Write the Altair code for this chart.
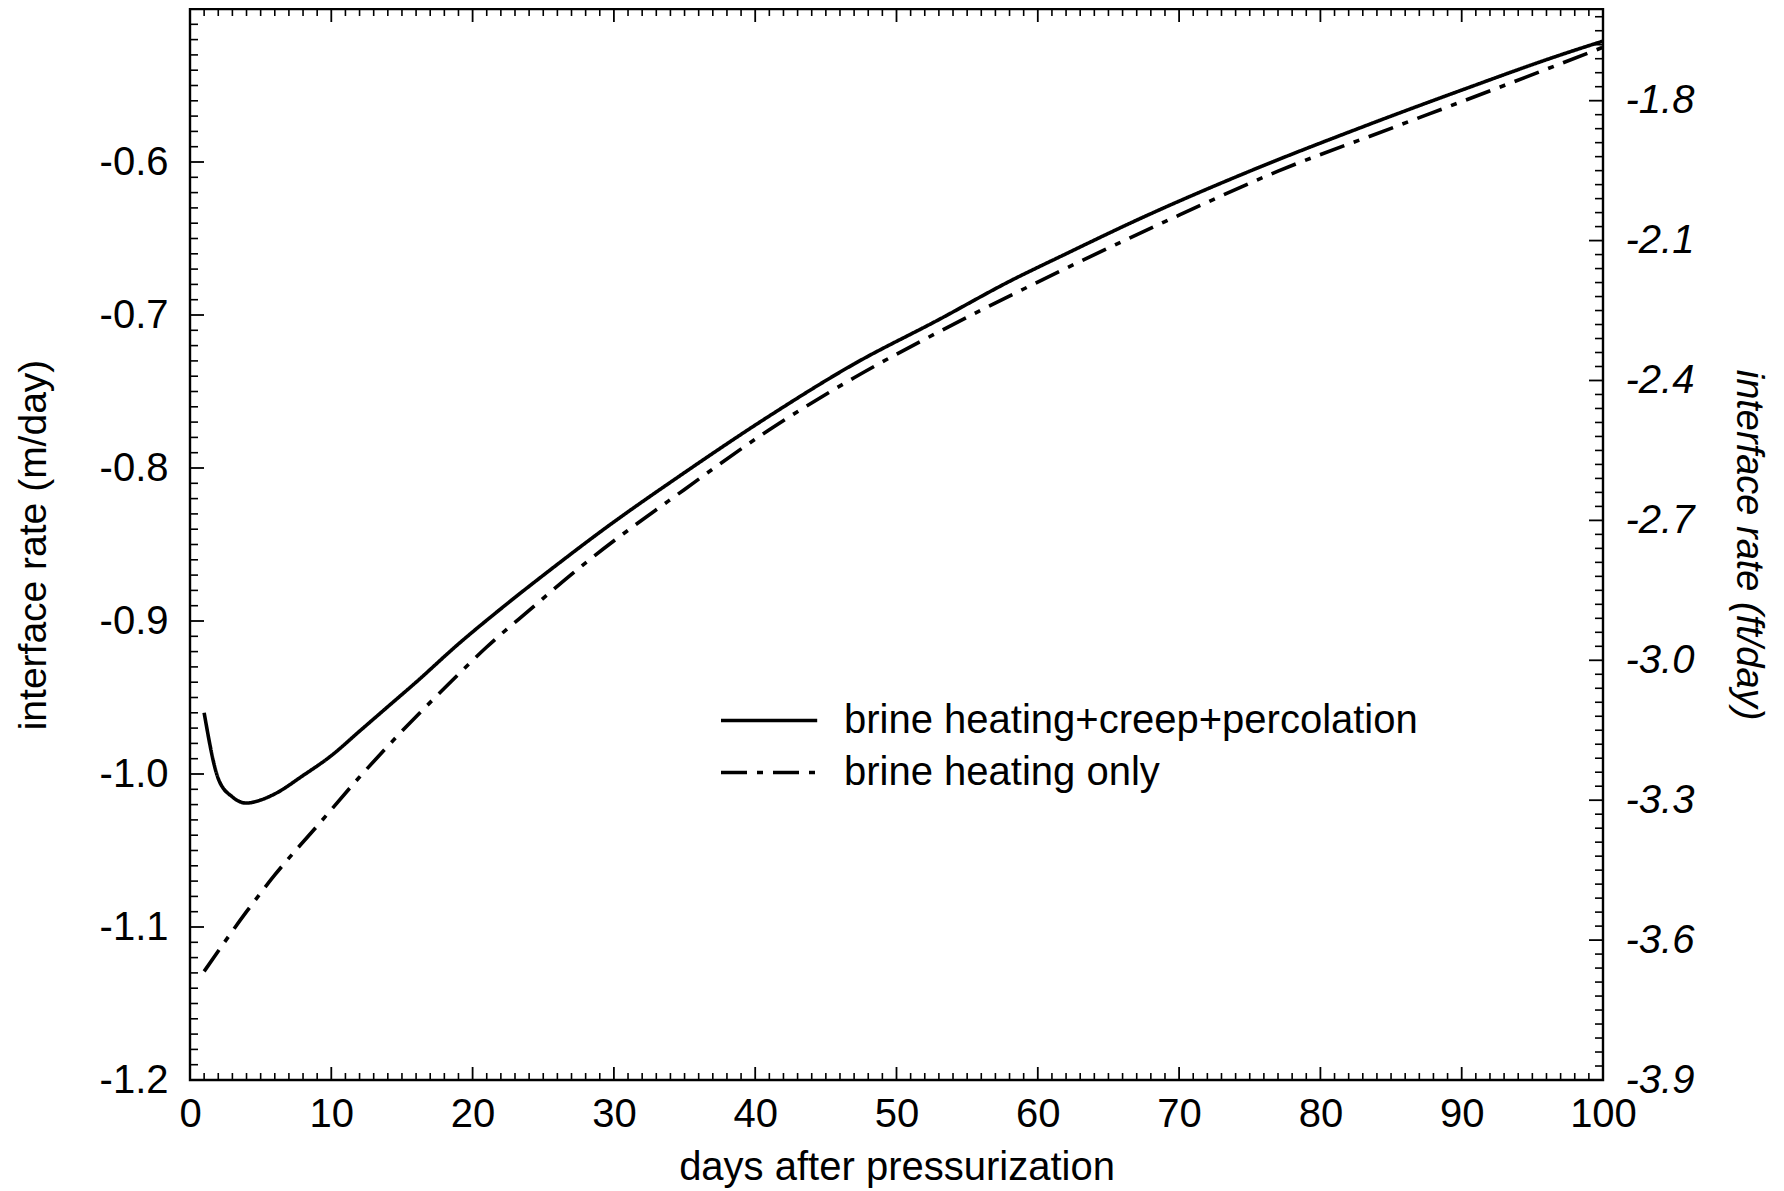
import altair as alt
import pandas as pd

# ---- data ----
solid_days = [1, 2, 3, 4, 5, 6, 8, 10, 12, 14, 16, 19, 22, 26, 29, 35, 41, 47, 53, 58, 62, 67, 75, 83, 90, 97, 100]
solid_rate = [-0.960, -1.003, -1.015, -1.019, -1.017, -1.013, -1.001, -0.988, -0.972, -0.956, -0.940,
              -0.915, -0.892, -0.863, -0.842, -0.803, -0.766, -0.732, -0.703, -0.678, -0.660, -0.638,
              -0.606, -0.577, -0.553, -0.530, -0.521]
dash_days = [1, 4, 6, 9, 12, 15, 18, 21, 24, 28, 35, 41, 47, 53, 59, 63, 69, 77, 85, 93, 100]
dash_rate = [-1.129, -1.090, -1.066, -1.034, -1.002, -0.972, -0.944, -0.917, -0.893, -0.862,
             -0.814, -0.775, -0.741, -0.711, -0.683, -0.665, -0.639, -0.606, -0.578, -0.550, -0.525]

series_names = ["brine heating+creep+percolation", "brine heating only"]

x_labels = [0, 10, 20, 30, 40, 50, 60, 70, 80, 90, 100]
y_labels = [-1.2, -1.1, -1.0, -0.9, -0.8, -0.7, -0.6]
ft_labels = [-3.9, -3.6, -3.3, -3.0, -2.7, -2.4, -2.1, -1.8]

x_domain = [0, 100]
y_domain = [-1.2, -0.5]
ft_domain = [-3.9, -3.9 + 0.7 * 3.28084]

W, H = 1413, 1071
FONT = "Liberation Sans"
MINUS_EXPR = "(datum.value < 0 ? '-' : '') + format(abs(datum.value), '.1f')"

df = pd.DataFrame(
    {"day": solid_days + dash_days,
     "rate": solid_rate + dash_rate,
     "series": [series_names[0]] * len(solid_days) + [series_names[1]] * len(dash_days)}
)

# tick tables (minor + major) for inward ticks
x_minor = pd.DataFrame({"v": [d for d in range(0, 101) if d % 10 != 0]})
x_major = pd.DataFrame({"v": x_labels})
y_minor = pd.DataFrame({"v": [round(-1.2 + i * 0.01, 3) for i in range(71) if i % 10 != 0]})
y_major = pd.DataFrame({"v": y_labels + [-0.5]})
ft_minor = pd.DataFrame({"v": [round(-3.9 + i * 0.03, 3) for i in range(77) if i % 10 != 0]})
ft_major = pd.DataFrame({"v": ft_labels})

xscale = alt.Scale(domain=x_domain, nice=False, zero=False)
yscale = alt.Scale(domain=y_domain, nice=False, zero=False)
ftscale = alt.Scale(domain=ft_domain, nice=False, zero=False)

x_axis = alt.Axis(values=x_labels, title="days after pressurization", grid=False, ticks=False,
                  tickSize=0, domain=False, labelFont=FONT, labelFontSize=40, labelPadding=14,
                  titleFont=FONT, titleFontSize=40, titleFontWeight="normal", titlePadding=13,
                  labelColor="black", titleColor="black", labelFlush=False, format="d")
y_axis = alt.Axis(values=y_labels, title="interface rate (m/day)", grid=False, ticks=False,
                  tickSize=0, domain=False, labelFont=FONT, labelFontSize=40, labelPadding=22,
                  titleFont=FONT, titleFontSize=39, titleFontWeight="normal", titlePadding=46,
                  labelColor="black", titleColor="black", labelExpr=MINUS_EXPR, labelFlush=False)
ft_axis = alt.Axis(values=ft_labels, title="interface rate (ft/day)", orient="right", grid=False,
                   ticks=False, tickSize=0, domain=False, labelFont=FONT, labelFontSize=40,
                   labelFontStyle="italic", labelPadding=22, titleFont=FONT, titleFontSize=38,
                   titleFontStyle="italic", titleFontWeight="normal", titlePadding=35,
                   labelColor="black", titleColor="black", labelExpr=MINUS_EXPR, labelFlush=False)

lines = alt.Chart(df).mark_line(color="black", strokeWidth=3.6, clip=True,
                                interpolate="monotone").encode(
    x=alt.X("day:Q", scale=xscale, axis=x_axis),
    y=alt.Y("rate:Q", scale=yscale, axis=y_axis),
    strokeDash=alt.StrokeDash(
        "series:N",
        scale=alt.Scale(domain=series_names, range=[[1, 0], [26, 10, 6, 10]]),
        legend=alt.Legend(title=None, orient="none", legendX=529, legendY=691,
                          symbolType="M-1,0H4.2", symbolSize=1369, symbolStrokeWidth=3.5,
                          symbolStrokeColor="black", symbolFillColor="transparent",
                          labelFont=FONT, labelFontSize=40,
                          labelColor="black", labelOffset=84, rowPadding=11, padding=0,
                          labelLimit=0),
    ),
    order="day:Q",
)


def rule_y(data, scale, axis, x0, x1, sw):
    return alt.Chart(data).mark_rule(color="black", strokeWidth=sw).encode(
        y=alt.Y("v:Q", scale=scale, axis=axis), x=alt.value(x0), x2=alt.value(x1))


def rule_x(data, y0, y1, sw):
    return alt.Chart(data).mark_rule(color="black", strokeWidth=sw).encode(
        x=alt.X("v:Q", scale=xscale, axis=x_axis), y=alt.value(y0), y2=alt.value(y1))


left_minor = rule_y(y_minor, yscale, y_axis, 0, 8, 1.6)
left_major = rule_y(y_major, yscale, y_axis, 0, 14, 1.8)
bot_minor = rule_x(x_minor, H, H - 7, 1.6)
bot_major = rule_x(x_major, H, H - 13, 1.8)
top_minor = rule_x(x_minor, 0, 7, 1.6)
top_major = rule_x(x_major, 0, 13, 1.8)
right_minor = rule_y(ft_minor, ftscale, ft_axis, W, W - 8, 1.6)
right_major = rule_y(ft_major, ftscale, ft_axis, W, W - 14, 1.8)

frame = alt.Chart(pd.DataFrame({"a": [0]})).mark_rect(
    fill="transparent", stroke="black", strokeWidth=2.4
).encode(x=alt.value(0), x2=alt.value(W), y=alt.value(0), y2=alt.value(H))

left_group = alt.layer(frame, lines, left_minor, left_major, bot_minor, bot_major, top_minor, top_major)
right_group = alt.layer(right_minor, right_major)

chart = alt.layer(left_group, right_group).resolve_scale(y="independent").properties(
    width=W, height=H,
    autosize=alt.AutoSizeParams(type="none"),
    padding={"left": 182, "top": 1, "right": 172, "bottom": 110},
).configure_view(stroke=None).configure(background="white")

chart.save("out.html", embed_options={"renderer": "svg", "actions": False})
